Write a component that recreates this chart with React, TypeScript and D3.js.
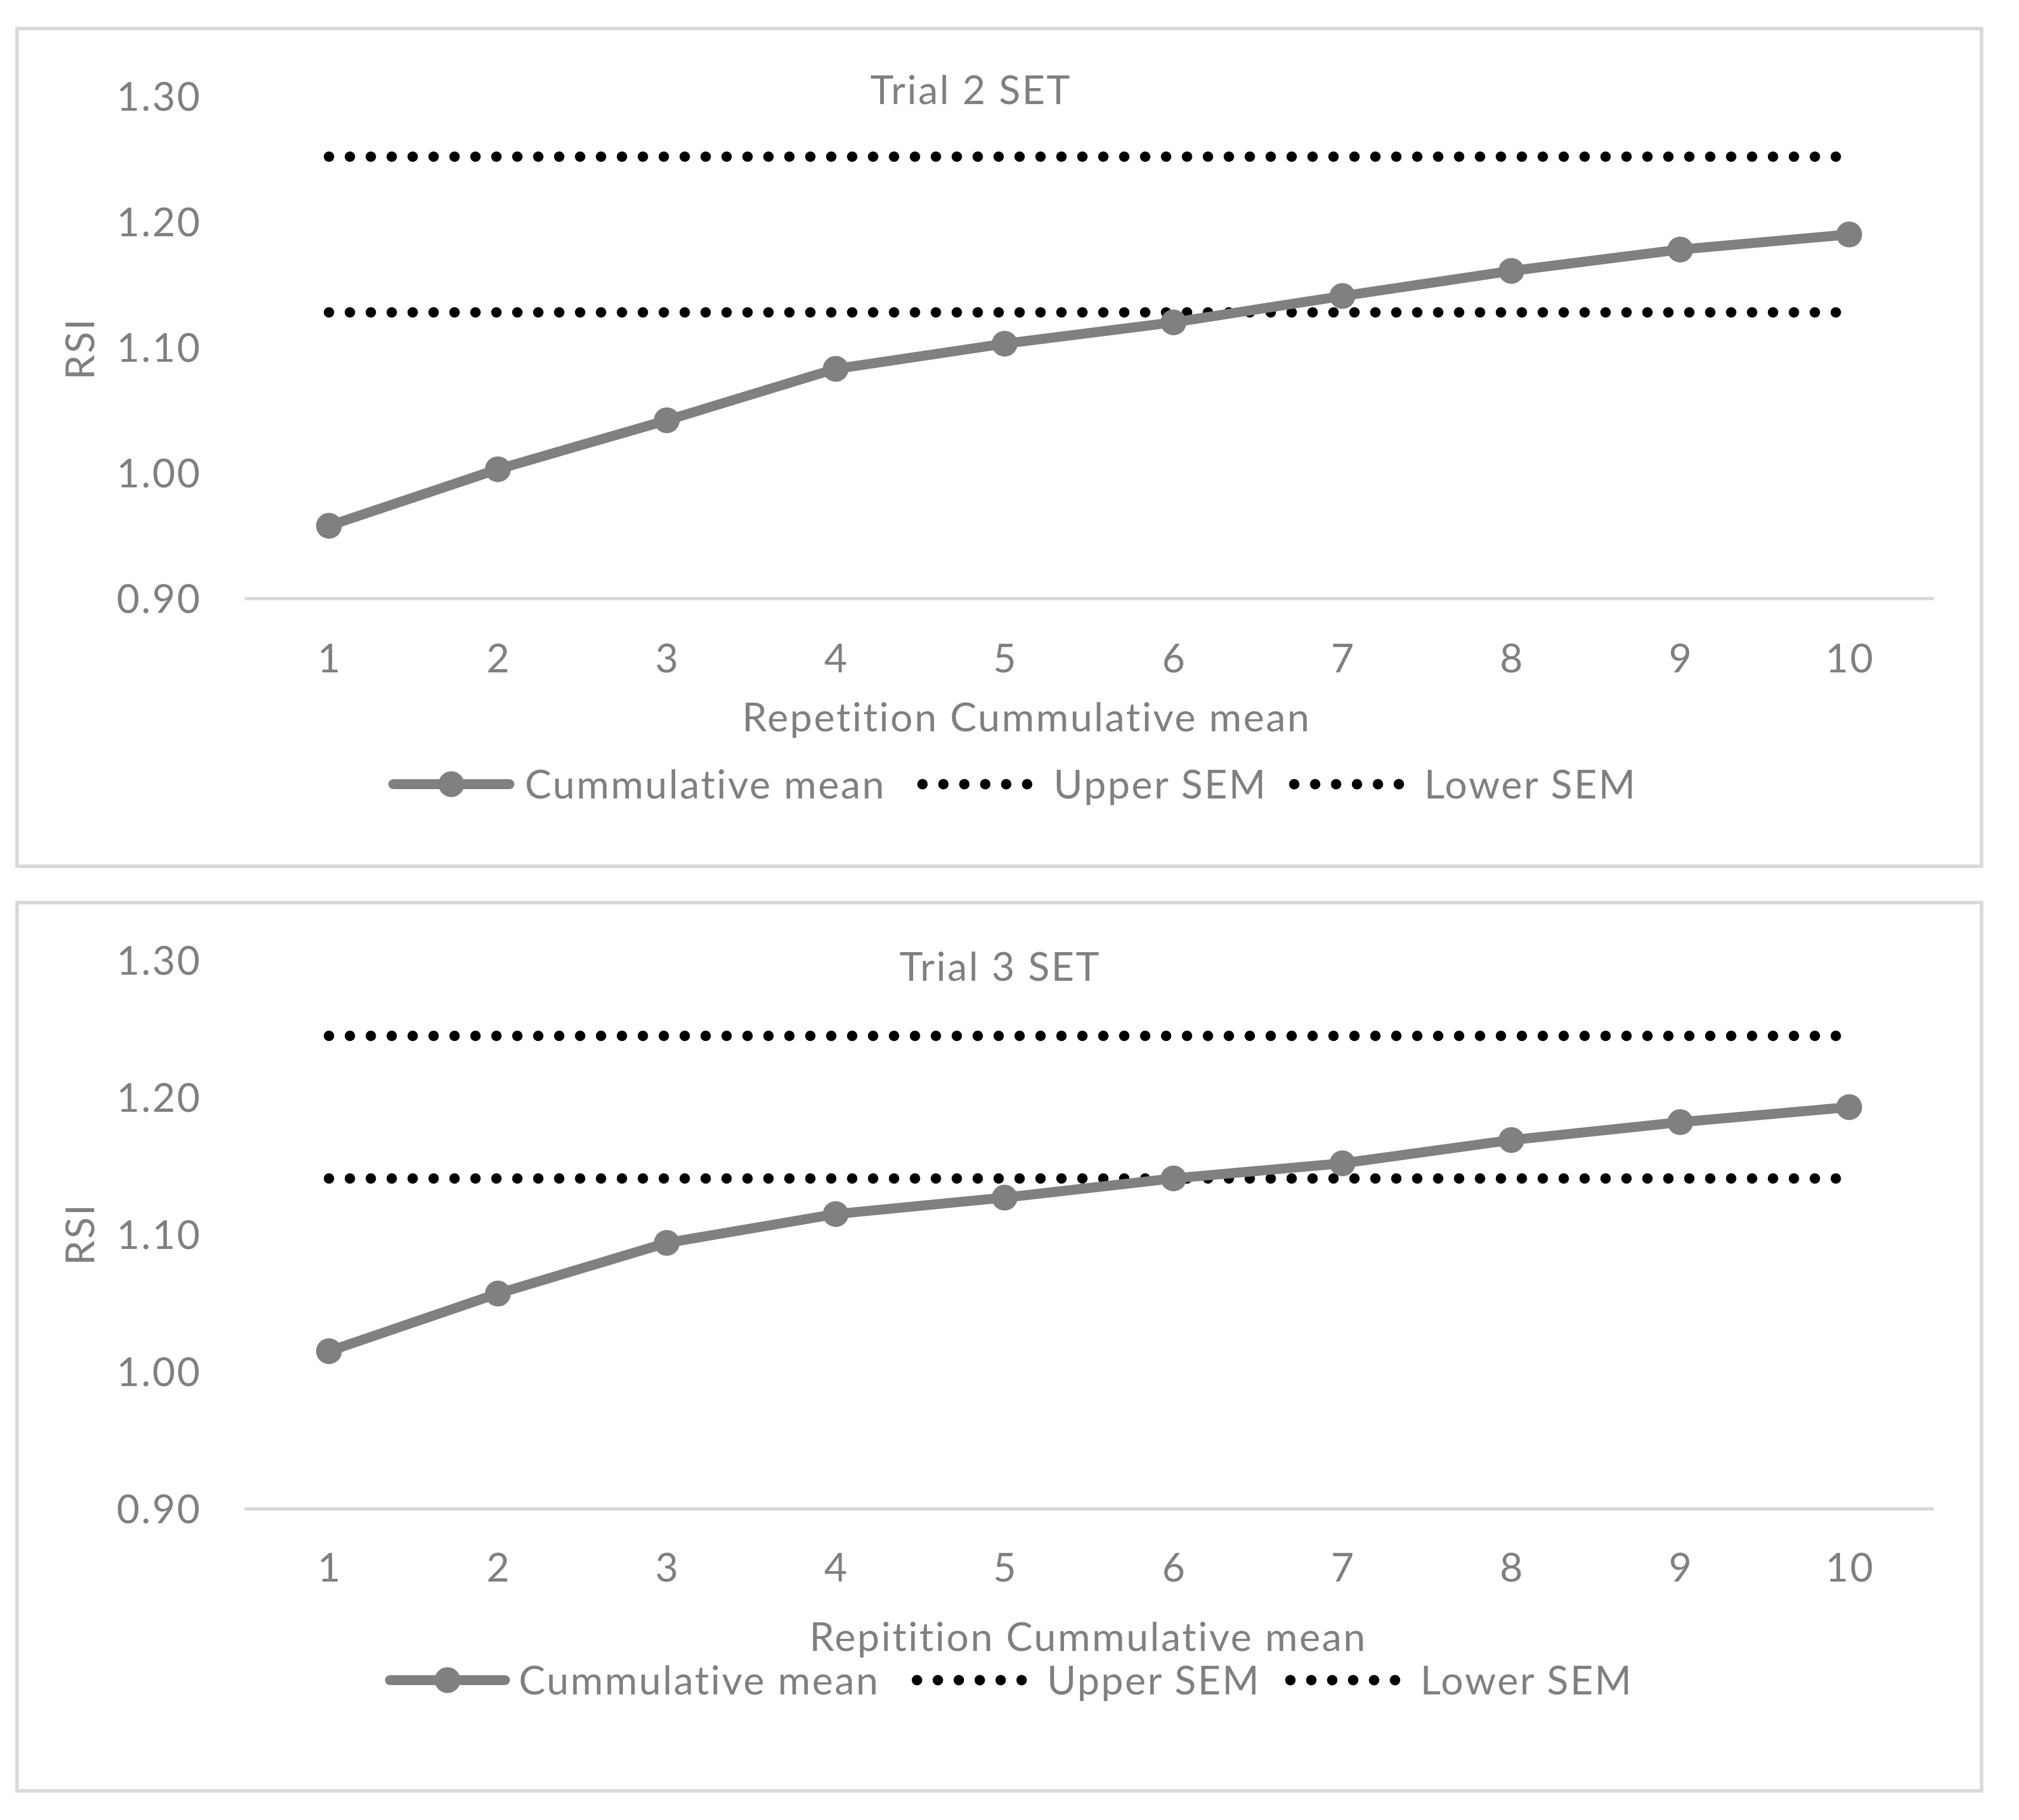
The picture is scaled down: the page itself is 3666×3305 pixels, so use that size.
import React, { useRef, useEffect } from 'react';
import * as d3 from 'd3';

// Repetition numbers on the x axis
const repetitions = [1, 2, 3, 4, 5, 6, 7, 8, 9, 10];
// RSI tick values on the y axis
const yTicks = [0.9, 1.0, 1.1, 1.2, 1.3];

// Trial 2 SET
const trial2Mean = [0.958, 1.003, 1.042, 1.083, 1.103, 1.12, 1.141, 1.161, 1.178, 1.19];
const trial2Upper = [1.252, 1.252, 1.252, 1.252, 1.252, 1.252, 1.252, 1.252, 1.252, 1.252];
const trial2Lower = [1.128, 1.128, 1.128, 1.128, 1.128, 1.128, 1.128, 1.128, 1.128, 1.128];

// Trial 3 SET
const trial3Mean = [1.015, 1.057, 1.094, 1.115, 1.127, 1.141, 1.152, 1.169, 1.182, 1.193];
const trial3Upper = [1.245, 1.245, 1.245, 1.245, 1.245, 1.245, 1.245, 1.245, 1.245, 1.245];
const trial3Lower = [1.141, 1.141, 1.141, 1.141, 1.141, 1.141, 1.141, 1.141, 1.141, 1.141];

const legendLabels = ['Cummulative mean', 'Upper SEM', 'Lower SEM'];

const WIDTH = 3666;
const HEIGHT = 3305;
const FONT = 'Lato, "Open Sans", sans-serif';
const FS = 72;
const TEXT = '#808080';
const GRID = '#d9d9d9';

interface Panel {
  title: string;
  xTitle: string;
  mean: number[];
  upper: number[];
  lower: number[];
  frame: [number, number, number, number];
  plotTop: number;
  plotBottom: number;
  titleX: number;
  titleY: number;
  xTickY: number;
  xTitleX: number;
  xTitleY: number;
  ylabelY: number;
  legendY: number;
  legendX: number[]; // line start, line end, text1, dots start, text2, dots start, text3
}

const panels: Panel[] = [
  {
    title: 'Trial 2 SET',
    xTitle: 'Repetition Cummulative mean',
    mean: trial2Mean,
    upper: trial2Upper,
    lower: trial2Lower,
    frame: [31, 52, 3567, 1521],
    plotTop: 175,
    plotBottom: 1087,
    titleX: 1763,
    titleY: 189,
    xTickY: 1221,
    xTitleX: 1864,
    xTitleY: 1328,
    ylabelY: 633,
    legendY: 1424,
    legendX: [714, 925, 953, 1675, 1913, 2350, 2586],
  },
  {
    title: 'Trial 3 SET',
    xTitle: 'Repitition Cummulative mean',
    mean: trial3Mean,
    upper: trial3Upper,
    lower: trial3Lower,
    frame: [31, 1639, 3567, 1613],
    plotTop: 1744,
    plotBottom: 2740,
    titleX: 1816,
    titleY: 1781,
    xTickY: 2872,
    xTitleX: 1976,
    xTitleY: 2998,
    ylabelY: 2241,
    legendY: 3051,
    legendX: [708, 917, 942, 1665, 1901, 2343, 2579],
  },
];

const App: React.FC = () => {
  const ref = useRef<SVGSVGElement | null>(null);

  useEffect(() => {
    if (!ref.current) return;
    const svg = d3.select<SVGSVGElement, unknown>(ref.current);
    svg.selectAll('*').remove();

    svg.append('rect').attr('width', WIDTH).attr('height', HEIGHT).attr('fill', '#fff');

    const fmt = d3.format('.2f');

    panels.forEach(p => {
      const g = svg
        .append('g')
        .style('font-family', FONT)
        .style('font-size', `${FS}px`)
        .style('letter-spacing', '3px');

      // chart frame
      g.append('rect')
        .attr('x', p.frame[0])
        .attr('y', p.frame[1])
        .attr('width', p.frame[2])
        .attr('height', p.frame[3])
        .attr('fill', 'none')
        .attr('stroke', GRID)
        .attr('stroke-width', 6.5);

      const x = d3.scaleBand<number>().domain(repetitions).range([444, 3511]);
      const cx = (r: number) => x(r)! + x.bandwidth() / 2;
      const y = d3.scaleLinear().domain([0.9, 1.3]).range([p.plotBottom, p.plotTop]);

      // baseline gridline
      g.append('line')
        .attr('x1', 444)
        .attr('x2', 3511)
        .attr('y1', y(0.9))
        .attr('y2', y(0.9))
        .attr('stroke', GRID)
        .attr('stroke-width', 6);

      // y tick labels
      g.selectAll('text.ytick')
        .data(yTicks)
        .enter()
        .append('text')
        .attr('class', 'ytick')
        .attr('x', 366)
        .attr('y', d => y(d) + FS * 0.358)
        .attr('text-anchor', 'end')
        .attr('fill', TEXT)
        .text(d => fmt(d));

      // x tick labels
      g.selectAll('text.xtick')
        .data(repetitions)
        .enter()
        .append('text')
        .attr('class', 'xtick')
        .attr('x', d => cx(d) + 1.5)
        .attr('y', p.xTickY)
        .attr('text-anchor', 'middle')
        .attr('fill', TEXT)
        .text(d => String(d));

      // titles
      g.append('text')
        .attr('x', p.titleX)
        .attr('y', p.titleY)
        .attr('text-anchor', 'middle')
        .attr('fill', TEXT)
        .text(p.title);

      g.append('text')
        .attr('x', p.xTitleX)
        .attr('y', p.xTitleY)
        .attr('text-anchor', 'middle')
        .attr('fill', TEXT)
        .text(p.xTitle);

      g.append('text')
        .attr('transform', `translate(${145 + FS * 0.358}, ${p.ylabelY}) rotate(-90)`)
        .attr('text-anchor', 'middle')
        .attr('fill', TEXT)
        .text('RSI');

      // SEM dotted lines
      const lineGen = d3
        .line<number>()
        .x((_, i) => cx(repetitions[i]))
        .y(d => y(d));

      [p.upper, p.lower].forEach(series => {
        g.append('path')
          .attr('d', lineGen(series)!)
          .attr('fill', 'none')
          .attr('stroke', '#000')
          .attr('stroke-width', 19)
          .attr('stroke-linecap', 'round')
          .attr('stroke-dasharray', '0 38');
      });

      // cumulative mean line with markers
      g.append('path')
        .attr('d', lineGen(p.mean)!)
        .attr('fill', 'none')
        .attr('stroke', TEXT)
        .attr('stroke-width', 18)
        .attr('stroke-linejoin', 'round');

      g.selectAll('circle.pt')
        .data(p.mean)
        .enter()
        .append('circle')
        .attr('class', 'pt')
        .attr('cx', (_, i) => cx(repetitions[i]))
        .attr('cy', d => y(d))
        .attr('r', 23.5)
        .attr('fill', TEXT);

      // legend
      const ly = p.legendY;
      const [l0, l1, t1, d1, t2, d2, t3] = p.legendX;
      g.append('line')
        .attr('x1', l0)
        .attr('x2', l1)
        .attr('y1', ly)
        .attr('y2', ly)
        .attr('stroke', TEXT)
        .attr('stroke-width', 18)
        .attr('stroke-linecap', 'round');
      g.append('circle')
        .attr('cx', (l0 + l1) / 2)
        .attr('cy', ly)
        .attr('r', 23.5)
        .attr('fill', TEXT);
      [d1, d2].forEach(dx => {
        g.append('line')
          .attr('x1', dx)
          .attr('x2', dx + 38 * 5 + 2)
          .attr('y1', ly)
          .attr('y2', ly)
          .attr('stroke', '#000')
          .attr('stroke-width', 19)
          .attr('stroke-linecap', 'round')
          .attr('stroke-dasharray', '0 38');
      });
      [t1, t2, t3].forEach((tx, i) => {
        g.append('text')
          .attr('x', tx)
          .attr('y', ly + FS * 0.358)
          .attr('fill', TEXT)
          .text(legendLabels[i]);
      });
    });
  }, []);

  return (
    <svg
      ref={ref}
      width={WIDTH}
      height={HEIGHT}
      style={{ position: 'absolute', left: 0, top: 0 }}
    />
  );
};

export default App;
